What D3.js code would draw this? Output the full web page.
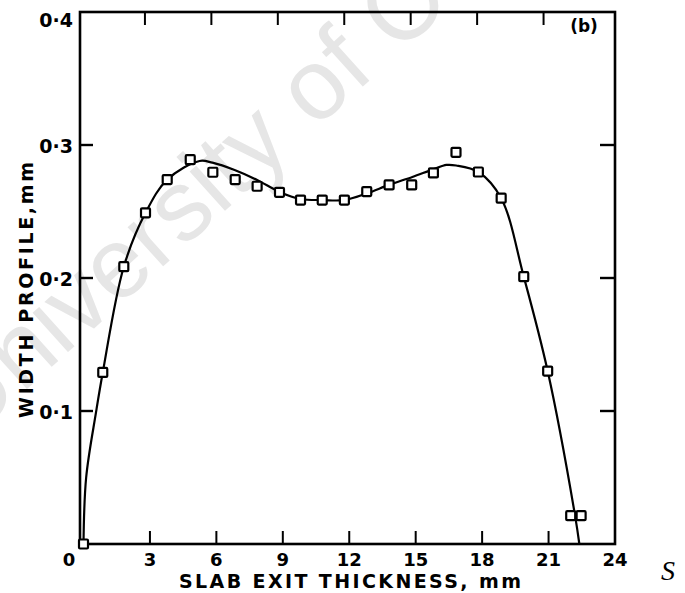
<!DOCTYPE html>
<html>
<head>
<meta charset="utf-8">
<script src="https://cdn.jsdelivr.net/npm/d3@7"></script>
<style>
body{margin:0;background:#fff;}
</style>
</head>
<body>
<script>
// measured points: slab exit thickness (mm) / width profile (mm)
let thickness = [0, 0.87, 1.82, 2.8, 3.78, 4.82, 5.84, 6.85, 7.84, 8.85, 9.8, 10.78, 11.78, 12.79, 13.8, 14.82, 15.8, 16.82, 17.83, 18.86, 19.88, 20.96, 22.0, 22.47];
let profile = [0, 0.129, 0.2085, 0.249, 0.274, 0.289, 0.2795, 0.274, 0.269, 0.2644, 0.2586, 0.2586, 0.2586, 0.265, 0.270, 0.270, 0.279, 0.2945, 0.2797, 0.26, 0.201, 0.130, 0.0213, 0.0213];
// fitted curve
let fitX = [0, 0.12, 0.57, 0.87, 1.82, 2.8, 3.78, 5.24, 5.82, 6.85, 7.84, 8.85, 9.8, 10.79, 11.78, 12.78, 13.8, 14.85, 15.8, 16.39, 16.83, 17.83, 18.86, 19.88, 20.96, 22.2, 22.39];
let fitY = [0, 0.05, 0.0995, 0.129, 0.2085, 0.249, 0.274, 0.288, 0.2867, 0.281, 0.2737, 0.2647, 0.2594, 0.2586, 0.2586, 0.2635, 0.27, 0.276, 0.2817, 0.285, 0.2846, 0.2797, 0.26, 0.201, 0.13, 0.021, 0];
let xTicks = [3, 6, 9, 12, 15, 18, 21, 24];
let yTicks = [0.1, 0.2, 0.3, 0.4];
let yTickLabels = ['0·1', '0·2', '0·3', '0·4'];

let width = 685,
    height = 593,
    padLeft = 80,
    padRight = 615,
    padTop = 12,
    padBottom = 544,
    tick = 13;
let font = '"DejaVu Sans", sans-serif';

let svg = d3.select('body')
    .append('svg')
    .attr('width', width)
    .attr('height', height)
    .style('display', 'block');

// faint watermark behind the chart
svg.append('text')
    .attr('transform', 'translate(-32,442) rotate(-42)')
    .attr('font-family', '"Liberation Sans", Arial, sans-serif')
    .attr('font-size', '100px')
    .attr('fill', '#e6e6e6')
    .text('University of Cape Town');

let x = d3.scaleLinear().domain([0, 24]).range([83.5, padRight]);
let y = d3.scaleLinear().domain([0, 0.4]).range([padBottom, padTop]);

// frame
svg.append('rect')
    .attr('x', padLeft)
    .attr('y', padTop)
    .attr('width', padRight - padLeft)
    .attr('height', padBottom - padTop)
    .attr('fill', 'none')
    .attr('stroke', '#000')
    .attr('stroke-width', 2.6);

// inward ticks on all four sides
let inner = xTicks.filter(function(d){ return d < 24; });
svg.selectAll('line.xb')
    .data(inner)
    .enter()
    .append('line')
    .attr('class', 'xb')
    .attr('x1', function(d){ return x(d); })
    .attr('x2', function(d){ return x(d); })
    .attr('y1', padBottom)
    .attr('y2', padBottom - tick)
    .attr('stroke', '#000')
    .attr('stroke-width', 2);
svg.selectAll('line.xt')
    .data(inner)
    .enter()
    .append('line')
    .attr('class', 'xt')
    .attr('x1', function(d){ return x(d) - 5; })
    .attr('x2', function(d){ return x(d) - 5; })
    .attr('y1', padTop)
    .attr('y2', padTop + tick)
    .attr('stroke', '#000')
    .attr('stroke-width', 2);
let innerY = yTicks.filter(function(d){ return d < 0.4; });
svg.selectAll('line.yl')
    .data(innerY)
    .enter()
    .append('line')
    .attr('class', 'yl')
    .attr('x1', padLeft)
    .attr('x2', padLeft + tick)
    .attr('y1', function(d){ return y(d); })
    .attr('y2', function(d){ return y(d); })
    .attr('stroke', '#000')
    .attr('stroke-width', 2.4);
svg.selectAll('line.yr')
    .data(innerY)
    .enter()
    .append('line')
    .attr('class', 'yr')
    .attr('x1', padRight)
    .attr('x2', padRight - tick - 2)
    .attr('y1', function(d){ return y(d); })
    .attr('y2', function(d){ return y(d); })
    .attr('stroke', '#000')
    .attr('stroke-width', 2.4);

// tick labels
svg.selectAll('text.xl')
    .data(xTicks)
    .enter()
    .append('text')
    .attr('class', 'xl')
    .attr('x', function(d){ return x(d); })
    .attr('y', 566)
    .attr('text-anchor', 'middle')
    .attr('font-family', font)
    .attr('font-weight', 'bold')
    .attr('font-size', '18px')
    .text(function(d){ return d; });
svg.append('text')
    .attr('x', 69)
    .attr('y', 566)
    .attr('text-anchor', 'middle')
    .attr('font-family', font)
    .attr('font-weight', 'bold')
    .attr('font-size', '18px')
    .text('0');
svg.selectAll('text.yl')
    .data(yTicks)
    .enter()
    .append('text')
    .attr('class', 'yl')
    .attr('x', 73)
    .attr('y', function(d){ return y(d); })
    .attr('dy', function(d){ return d == 0.4 ? '0.8em' : '0.4em'; })
    .attr('text-anchor', 'end')
    .attr('font-family', font)
    .attr('font-weight', 'bold')
    .attr('font-size', '19px')
    .text(function(d, i){ return yTickLabels[i]; });

// axis titles
svg.append('text')
    .attr('x', 350)
    .attr('y', 588)
    .attr('text-anchor', 'middle')
    .attr('font-family', font)
    .attr('font-weight', 'bold')
    .attr('font-size', '19px')
    .attr('textLength', 342)
    .attr('lengthAdjust', 'spacing')
    .text('SLAB EXIT THICKNESS, mm');
svg.append('text')
    .attr('transform', 'translate(33,290) rotate(-90)')
    .attr('text-anchor', 'middle')
    .attr('font-family', font)
    .attr('font-weight', 'bold')
    .attr('font-size', '19px')
    .attr('textLength', 256)
    .attr('lengthAdjust', 'spacing')
    .text('WIDTH PROFILE,mm');
svg.append('text')
    .attr('x', 584)
    .attr('y', 32)
    .attr('text-anchor', 'middle')
    .attr('font-family', font)
    .attr('font-weight', 'bold')
    .attr('font-size', '17px')
    .text('(b)');
svg.append('text')
    .attr('x', 668)
    .attr('y', 580)
    .attr('text-anchor', 'middle')
    .attr('font-family', '"Liberation Serif", serif')
    .attr('font-style', 'italic')
    .attr('font-size', '28px')
    .text('S');

// fitted curve
let fit = fitX.map(function(d, i){ return [d, fitY[i]]; });
let line = d3.line()
    .x(function(d){ return x(d[0]); })
    .y(function(d){ return y(d[1]); })
    .curve(d3.curveCatmullRom.alpha(0.5));
svg.append('path')
    .datum(fit)
    .attr('d', line)
    .attr('fill', 'none')
    .attr('stroke', '#000')
    .attr('stroke-width', 2.2);

// measured squares
let s = 9;
svg.selectAll('rect.pt')
    .data(thickness)
    .enter()
    .append('rect')
    .attr('class', 'pt')
    .attr('x', function(d){ return x(d) - s / 2; })
    .attr('y', function(d, i){ return y(profile[i]) - s / 2; })
    .attr('width', s)
    .attr('height', s)
    .attr('rx', 1)
    .attr('fill', '#fff')
    .attr('stroke', '#000')
    .attr('stroke-width', 2.2);
</script>
</body>
</html>
